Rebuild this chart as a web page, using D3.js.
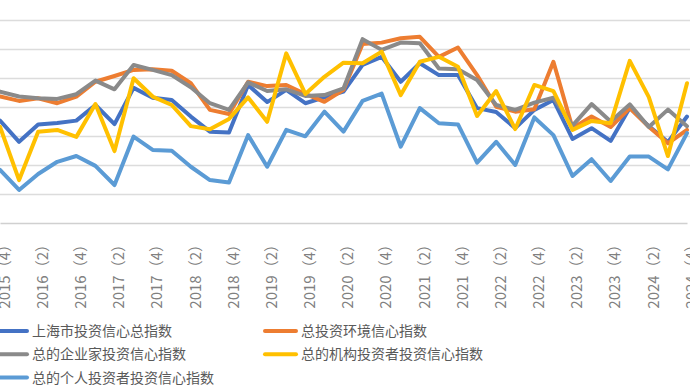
<!DOCTYPE html>
<html>
<head>
<meta charset="utf-8">
<script src="https://cdn.jsdelivr.net/npm/d3@7"></script>
<style>
  body { margin: 0; background: #ffffff; }
  svg { display: block; }
</style>
</head>
<body>
<script>

// quarters on the category axis
var quarters = [
    "2015（4）", "2016（1）", "2016（2）", "2016（3）", "2016（4）",
    "2017（1）", "2017（2）", "2017（3）", "2017（4）",
    "2018（1）", "2018（2）", "2018（3）", "2018（4）",
    "2019（1）", "2019（2）", "2019（3）", "2019（4）",
    "2020（1）", "2020（2）", "2020（3）", "2020（4）",
    "2021（1）", "2021（2）", "2021（3）", "2021（4）",
    "2022（1）", "2022（2）", "2022（3）", "2022（4）",
    "2023（1）", "2023（2）", "2023（3）", "2023（4）",
    "2024（1）", "2024（2）", "2024（3）", "2024（4）"
];

// series values
var shanghaiTotal = [95.3, 88.0, 94.0, 94.5, 95.3, 100.7, 94.1, 106.6, 103.2, 102.4, 96.7, 91.5, 91.2,
    107.6, 101.7, 105.9, 101.3, 103.3, 105.3, 114.5, 117.3, 108.7, 115.1, 111.0, 111.0,
    99.6, 98.3, 92.7, 99.0, 102.4, 89.0, 92.7, 88.3, 99.7, 93.4, 87.9, 96.7];
var environment = [103.6, 102.1, 103.0, 101.3, 103.6, 108.7, 110.7, 112.8, 113.0, 112.5, 108.2, 99.0, 97.6,
    108.7, 107.2, 107.6, 104.5, 101.8, 105.9, 121.7, 122.2, 123.7, 124.2, 117.3, 120.5,
    111.0, 100.1, 98.4, 99.2, 115.6, 92.7, 96.7, 93.1, 99.6, 93.2, 87.5, 92.1];
var entrepreneur = [105.3, 103.6, 103.0, 102.8, 104.4, 109.1, 106.1, 114.5, 112.8, 111.0, 106.8, 101.3, 99.0,
    108.5, 105.5, 106.1, 103.8, 104.1, 106.4, 123.4, 119.7, 122.2, 122.0, 113.3, 113.0,
    109.3, 100.7, 99.0, 101.5, 103.2, 93.6, 101.0, 95.0, 100.9, 93.1, 99.1, 93.4];
var institution = [93.2, 74.8, 91.5, 92.1, 89.7, 101.0, 84.8, 109.9, 103.6, 100.7, 93.4, 92.3, 95.9,
    103.3, 94.9, 118.5, 104.5, 110.4, 115.3, 115.1, 119.1, 104.1, 115.6, 117.3, 113.9,
    96.9, 105.5, 92.4, 107.6, 105.5, 92.1, 95.2, 94.4, 115.9, 103.4, 83.1, 108.2];
var individual = [78.3, 71.4, 76.9, 81.1, 83.1, 79.7, 73.1, 89.8, 85.2, 84.9, 79.4, 74.8, 74.0,
    90.3, 79.4, 92.1, 89.9, 98.4, 91.5, 102.1, 104.6, 86.3, 99.6, 94.4, 94.0,
    80.8, 88.0, 80.0, 96.4, 90.3, 76.2, 82.0, 74.5, 82.9, 82.9, 78.5, 91.0];

var seriesNames = ["上海市投资信心总指数", "总投资环境信心指数", "总的企业家投资信心指数",
    "总的机构投资者投资信心指数", "总的个人投资者投资信心指数"];
var seriesValues = [shanghaiTotal, environment, entrepreneur, institution, individual];
var gridValues = [70, 80, 90, 100, 110, 120, 130, 140];

/**
 * Default parameter
 */
var W = 690;
var H = 389;
var axisY = 223;
var colors = ["#4472C4", "#ED7D31", "#8A8A8A", "#FFC000", "#5B9BD5"];
var gridColor = "#DCDCDC";
var labelColor = "#808080";
var legendColor = "#595959";
var fontFamily = "'Noto Sans CJK SC', 'Noto Sans', sans-serif";
var lineWidth = 4;

var svg = d3.select("body").append("svg")
    .attr("width", W)
    .attr("height", H)
    .style("background-color", "#ffffff");

var x = d3.scalePoint()
    .domain(quarters)
    .range([0, 687]);

var y = d3.scaleLinear()
    .domain([60, 140])
    .range([axisY, -9]);

// horizontal gridlines
var grid = svg.append("g")
    .call(d3.axisLeft(y).tickValues(gridValues).tickSize(-W).tickFormat(""));
grid.select(".domain").remove();
grid.selectAll(".tick line")
    .attr("stroke", gridColor)
    .attr("stroke-width", 1.5);

// category axis, every other quarter labelled
var xAxis = svg.append("g")
    .attr("transform", "translate(0," + axisY + ")")
    .call(d3.axisBottom(x)
        .tickValues(quarters.filter(function (d, i) { return i % 2 === 0; }))
        .tickSize(0));
xAxis.select(".domain")
    .attr("stroke", "#D0D0D0")
    .attr("stroke-width", 1.5);
xAxis.selectAll(".tick text")
    .attr("transform", "rotate(-90)")
    .attr("text-anchor", "end")
    .attr("x", -14)
    .attr("y", 4)
    .attr("dy", "0.35em")
    .attr("fill", labelColor)
    .attr("font-family", fontFamily)
    .attr("font-size", "15px");

// the lines
var line = d3.line()
    .x(function (d, i) { return x(quarters[i]); })
    .y(function (d) { return y(d); });

svg.append("g").selectAll("path")
    .data(seriesValues)
    .enter()
    .append("path")
    .attr("d", line)
    .attr("fill", "none")
    .attr("stroke", function (d, i) { return colors[i]; })
    .attr("stroke-width", lineWidth)
    .attr("stroke-linejoin", "round")
    .attr("stroke-linecap", "round");

// legend, two columns
var legend = svg.append("g").selectAll("g")
    .data(seriesNames)
    .enter()
    .append("g")
    .attr("transform", function (d, i) {
        var col = i % 2;
        var row = Math.floor(i / 2);
        return "translate(" + (col === 0 ? -4 : 265) + "," + (331 + row * 23.3) + ")";
    });

legend.append("line")
    .attr("x1", 0)
    .attr("x2", 31)
    .attr("stroke", function (d, i) { return colors[i]; })
    .attr("stroke-width", lineWidth)
    .attr("stroke-linecap", "round");

legend.append("text")
    .attr("x", 36)
    .attr("dy", "0.35em")
    .attr("fill", legendColor)
    .attr("font-family", fontFamily)
    .attr("font-size", "14px")
    .text(function (d) { return d; });

</script>
</body>
</html>
